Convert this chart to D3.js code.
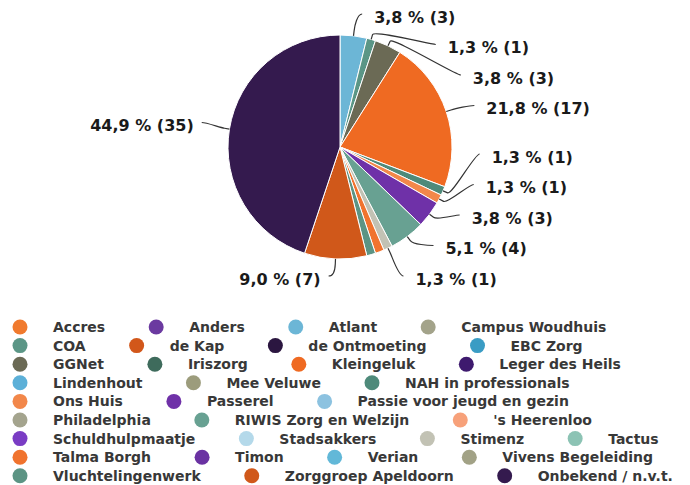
<!DOCTYPE html>
<html><head><meta charset="utf-8">
<script src="https://cdn.jsdelivr.net/npm/d3@7/dist/d3.min.js"></script>
<style>html,body{margin:0;padding:0;background:#fff}svg{display:block}</style>
</head><body>
<svg id="chart" width="690" height="485"></svg>
<script>
// ---- data (legend / data order) ----
const categories = ["Accres","Anders","Atlant","Campus Woudhuis","COA","de Kap","de Ontmoeting","EBC Zorg","GGNet","Iriszorg","Kleingeluk","Leger des Heils","Lindenhout","Mee Veluwe","NAH in professionals","Ons Huis","Passerel","Passie voor jeugd en gezin","Philadelphia","RIWIS Zorg en Welzijn","'s Heerenloo","Schuldhulpmaatje","Stadsakkers","Stimenz","Tactus","Talma Borgh","Timon","Verian","Vivens Begeleiding","Vluchtelingenwerk","Zorggroep Apeldoorn","Onbekend / n.v.t."];
const values = [0,0,3,0,1,0,0,0,3,0,17,0,0,0,1,1,3,0,0,4,0,0,0,1,0,1,0,0,0,1,7,35];
const colors = ["#f07a2e","#6b3aa0","#6cb6d6","#a3a38a","#5b9686","#d2571a","#2b1640","#3a9cc4","#6b6a55","#3e6b5c","#ef6a22","#3e1a6e","#5cb0d8","#9c9c7c","#4e8a7a","#f2874a","#6f31a8","#8cc2e0","#a4a48e","#68a192","#f7a17a","#7a3cc4","#b4d9ea","#c2c2b4","#8cc3b4","#f0732e","#6a32a2","#62b8d8","#a2a286","#5c9484","#d0581a","#341a4e"];

// ---- layout ----
const cx = 340, cy = 147, radius = 112, labelDistance = 22;
const pad = 6, connPadRight = 12, connPadLeft = 8, connOffset = 5;
const labelTop = 17, labelBottom = 279, slot = 30.5;
const legendTop = 327, rowH = 18.6, legendLeft = 20, markerR = 7.5, textGap = 33, itemGap = 51, maxRight = 693;

const svg = d3.select("#chart");
const data = categories.map((c, i) => ({ name: c, value: values[i], color: colors[i], index: i }));
const total = d3.sum(values);
const fmt = v => (v / total * 100).toFixed(1).replace(".", ",") + " % (" + v + ")";

const arcs = d3.pie().sort(null).value(d => d.value)(data).filter(a => a.data.value > 0);
const arc = d3.arc().innerRadius(0).outerRadius(radius);

const gPie = svg.append("g").attr("transform", `translate(${cx},${cy})`);
gPie.selectAll("path").data(arcs).join("path")
  .attr("d", arc)
  .attr("fill", d => d.data.color)
  .attr("stroke", "#ffffff")
  .attr("stroke-width", 1)
  .attr("stroke-linejoin", "round");

// ---- data labels (pie-style distribution) ----
const R = radius + labelDistance;
const pts = arcs.map(a => {
  const mid = (a.startAngle + a.endAngle) / 2;
  const sx = Math.sin(mid), sy = -Math.cos(mid);
  return {
    a, value: a.data.value, left: sx < 0,
    naturalY: cy + sy * R,
    touch: { x: cx + sx * radius, y: cy + sy * radius },
    brk: { x: cx + sx * (radius + connOffset), y: cy + sy * (radius + connOffset) }
  };
});

function distribute(items) {
  items.sort((a, b) => a.naturalY - b.naturalY);
  const avail = labelBottom - labelTop + slot;
  let kept = items.slice();
  while (kept.length * slot > avail) {
    const ranked = kept.slice().sort((a, b) => b.value - a.value);
    const drop = ranked[ranked.length - 1];
    kept = kept.filter(k => k !== drop);
  }
  const fix = b => {
    const n = b.items.length;
    const m = d3.mean(b.items, i => i.naturalY);
    b.pos = Math.max(labelTop, Math.min(labelBottom - (n - 1) * slot, m - (n - 1) * slot / 2));
  };
  let boxes = kept.map(k => ({ items: [k] }));
  boxes.forEach(fix);
  let overlap = true;
  while (overlap) {
    overlap = false;
    for (let i = boxes.length - 1; i > 0; i--) {
      const p = boxes[i - 1], b = boxes[i];
      if (p.pos + p.items.length * slot > b.pos + 0.01) {
        p.items = p.items.concat(b.items);
        fix(p);
        boxes.splice(i, 1);
        overlap = true;
      }
    }
  }
  boxes.forEach(b => b.items.forEach((it, k) => { it.finalY = b.pos + k * slot; }));
  return kept;
}

function getX(y, left) {
  const ang = Math.asin(Math.max(-1, Math.min(1, (y - cy) / R)));
  return cx + (left ? -1 : 1) * (Math.cos(ang) * R + pad);
}

const shown = distribute(pts.filter(p => !p.left)).concat(distribute(pts.filter(p => p.left)));
shown.forEach(p => {
  const yy = (p.finalY < labelTop + 2 || p.finalY > labelBottom - 2) ? p.naturalY : p.finalY;
  p.x = getX(yy, p.left);
});

const gLab = svg.append("g");
gLab.selectAll("path.conn").data(shown).join("path")
  .attr("class", "conn")
  .attr("fill", "none")
  .attr("stroke", "#333")
  .attr("stroke-width", 1.2)
  .attr("d", p => {
    const ly = p.finalY - 3;
    const c1x = p.x + (p.left ? 5 : -5);
    return `M${p.x},${ly}C${c1x},${ly} ${2 * p.brk.x - p.touch.x},${2 * p.brk.y - p.touch.y} ${p.brk.x},${p.brk.y}L${p.touch.x},${p.touch.y}`;
  });
gLab.selectAll("text").data(shown).join("text")
  .attr("x", p => p.x + (p.left ? -connPadLeft : connPadRight))
  .attr("y", p => p.finalY)
  .attr("dy", "0.36em")
  .attr("text-anchor", p => p.left ? "end" : "start")
  .attr("font-family", "DejaVu Sans, Verdana, sans-serif")
  .attr("font-weight", "bold")
  .attr("font-size", 16)
  .attr("fill", "#1a1a1a")
  .text(p => fmt(p.value));

// ---- legend (flowing rows) ----
const gLeg = svg.append("g");
const items = gLeg.selectAll("g.item").data(data).join("g").attr("class", "item");
items.append("circle").attr("r", markerR).attr("fill", d => d.color);
items.append("text")
  .attr("x", textGap)
  .attr("dy", "0.36em")
  .attr("font-family", "DejaVu Sans, Verdana, sans-serif")
  .attr("font-weight", "bold")
  .attr("font-size", 14)
  .attr("fill", "#383838")
  .text(d => d.name);
let lx = legendLeft, row = 0;
items.each(function () {
  const w = d3.select(this).select("text").node().getComputedTextLength();
  if (lx !== legendLeft && lx + textGap + w > maxRight) { row++; lx = legendLeft; }
  d3.select(this).attr("transform", `translate(${lx},${legendTop + row * rowH})`);
  lx += textGap + w + itemGap;
});
</script>
</body></html>
